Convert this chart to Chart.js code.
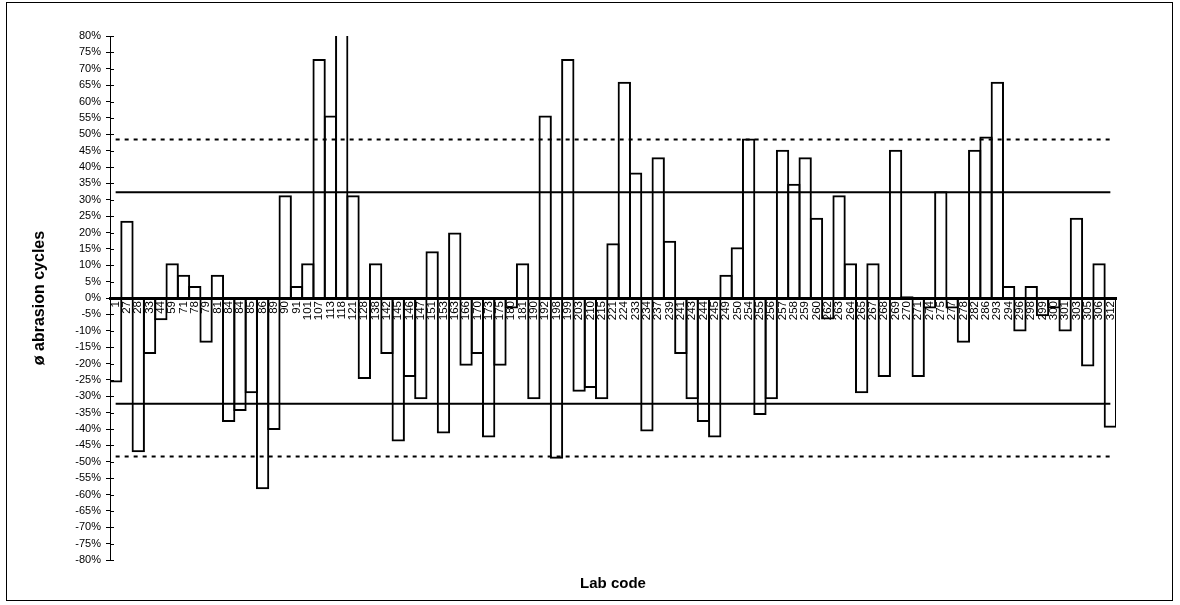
<!DOCTYPE html>
<html>
<head>
<meta charset="utf-8">
<script src="https://cdn.jsdelivr.net/npm/chart.js@4.4.1/dist/chart.umd.min.js"></script>
<style>
  html, body { margin: 0; padding: 0; background: #fff; }
  #wrap { position: relative; width: 1180px; height: 605px; }
  #frame { position: absolute; left: 6px; top: 2px; width: 1165px; height: 597px; border: 1px solid #000; pointer-events: none; }
  canvas { position: absolute; left: 0; top: 0; }
</style>
</head>
<body>
<div id="wrap">
  <canvas id="c" width="1180" height="605"></canvas>
  <div id="frame"></div>
</div>
<script>
// ---- data ----
const labCodes = ['1','27','28','33','44','59','71','78','79','81',
  '84','84','85','86','89','90','91','101','107','113',
  '118','121','128','138','142','145','146','147','151','153',
  '163','166','170','173','175','180','181','190','192','198',
  '199','203','210','215','221','224','233','234','237','239',
  '241','243','244','245','249','250','254','255','256','257',
  '258','259','260','262','263','264','265','267','268','269',
  '270','271','274','275','277','278','282','286','293','294',
  '296','298','299','300','301','303','305','306','312'];

const deviation = [-25.8, 23.6, -47.1, -17.1, -6.8, 10.6, 7.1, 3.7, -13.7, 7.1,
  -37.9, -34.5, -29.1, -58.4, -40.3, 31.4, 3.7, 10.6, 73.0, 55.7,
  90.0, 31.4, -24.7, 10.6, -17.1, -43.8, -24.1, -30.9, 14.3, -41.4,
  20.0, -20.7, -17.1, -42.6, -20.7, -3.2, 10.6, -30.9, 55.7, -49.1,
  73.0, -28.6, -27.5, -30.9, 16.7, 66.0, 38.3, -40.8, 43.0, 17.5,
  -17.1, -30.9, -37.9, -42.6, 7.1, 15.5, 48.7, -35.7, -30.9, 45.3,
  34.9, 43.0, 24.5, -6.6, 31.4, 10.6, -29.1, 10.6, -24.1, 45.3,
  0.5, -24.1, -3.2, 32.6, -3.2, -13.7, 45.3, 49.3, 66.0, 3.7,
  -10.2, 3.7, -5.6, -3.2, -10.2, 24.5, -20.9, 10.6, -39.6];

const innerLimit = 32.3;   // solid lines
const outerLimit = 48.4;   // dotted lines

const yMin = -80, yMax = 80, yStep = 5;

// ---- helpers ----
const constLine = v => labCodes.map(() => v);

const innerTicks = {
  id: 'innerTicks',
  afterDatasetsDraw(chart) {
    const ys = chart.scales.y;
    const ctx = chart.ctx;
    ctx.save();
    ctx.strokeStyle = '#000';
    ctx.lineWidth = 1;
    ctx.beginPath();
    ys.ticks.forEach((t, i) => {
      const py = Math.round(ys.getPixelForTick(i)) + 0.5;
      ctx.moveTo(ys.right, py);
      ctx.lineTo(ys.right + 4, py);
    });
    ctx.stroke();
    ctx.restore();
  }
};

const lineStyle = (v, dash) => ({
  type: 'line',
  data: constLine(v),
  borderColor: '#000',
  borderWidth: 2,
  borderDash: dash,
  pointRadius: 0,
  fill: false,
  tension: 0
});

new Chart(document.getElementById('c'), {
  data: {
    labels: labCodes,
    datasets: [
      {
        type: 'bar',
        data: deviation,
        backgroundColor: 'rgba(255,255,255,0)',
        borderColor: '#000',
        borderWidth: 2,
        barPercentage: 1.18,
        categoryPercentage: 1
      },
      lineStyle(innerLimit, []),
      lineStyle(-innerLimit, []),
      lineStyle(outerLimit, [4, 5]),
      lineStyle(-outerLimit, [4, 5])
    ]
  },
  options: {
    responsive: false,
    animation: false,
    devicePixelRatio: 1,
    layout: { padding: { left: 0, right: 64, top: 36, bottom: 0 } },
    plugins: { legend: { display: false }, tooltip: { enabled: false }, title: { display: false } },
    scales: {
      x: {
        type: 'category',
        position: { y: 0 },
        afterFit(s) { s.height = 0; },
        grid: { display: false, drawTicks: false },
        border: { display: true, color: '#000', width: 3 },
        ticks: {
          autoSkip: false, maxRotation: 90, minRotation: 90, padding: 3,
          color: '#000', font: { family: 'Liberation Sans, Arial, sans-serif', size: 11.5 }
        }
      },
      x2: {
        type: 'category',
        position: 'bottom',
        afterFit(s) { s.height = 45; },
        grid: { display: false, drawTicks: false },
        border: { display: false },
        ticks: { display: false },
        title: {
          display: true, text: 'Lab code', color: '#000',
          font: { family: 'Liberation Sans, Arial, sans-serif', size: 15, weight: 'bold' },
          padding: { top: 0, bottom: 12 }
        }
      },
      y: {
        min: yMin, max: yMax,
        afterFit(s) { s.width = 110; },
        grid: { display: true, drawOnChartArea: false, drawTicks: true, tickLength: 4, color: '#000' },
        border: { display: true, color: '#000', width: 1 },
        ticks: {
          stepSize: yStep, padding: 5, color: '#000',
          font: { family: 'Liberation Sans, Arial, sans-serif', size: 11 },
          callback: v => v + '%'
        },
        title: {
          display: true, text: 'ø abrasion cycles', color: '#000',
          font: { family: 'Liberation Sans, Arial, sans-serif', size: 16, weight: 'bold' },
          padding: { top: 30, bottom: 0 }
        }
      }
    }
  },
  plugins: [innerTicks]
});
</script>
</body>
</html>
